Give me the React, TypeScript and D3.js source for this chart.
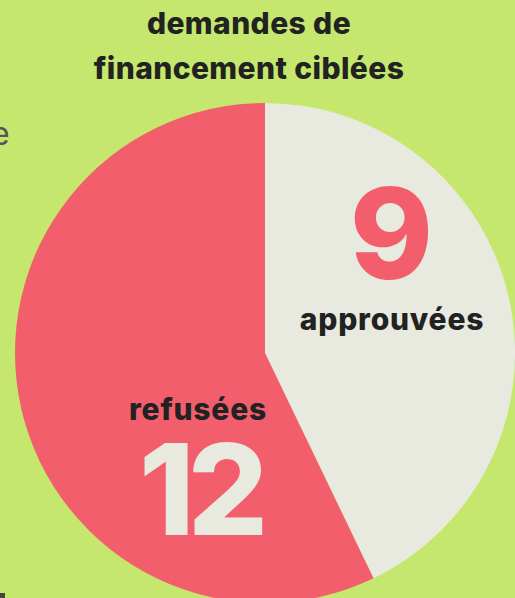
import React, { useEffect, useRef } from "react";
import * as d3 from "d3";

const categories = ["approuvées", "refusées"];
const values = [9, 12];
const colors = ["#e8eadf", "#f25e6b"];
const numberColors = ["#f25e6b", "#e8eadf"];
const titleLines = ["demandes de", "financement ciblées"];

export default function App() {
  const ref = useRef<SVGSVGElement>(null);

  useEffect(() => {
    const width = 515;
    const height = 598;
    const cx = 265;
    const cy = 353;
    const radius = 250;

    const svg = d3.select(ref.current);
    svg.selectAll("*").remove();

    svg.append("rect").attr("width", width).attr("height", height).attr("fill", "#c5e76d");

    // title
    svg
      .append("g")
      .attr("font-family", "Inter, sans-serif")
      .attr("font-weight", 800)
      .attr("font-size", 30)
      .attr("letter-spacing", 0.4)
      .attr("fill", "#222")
      .attr("text-anchor", "middle")
      .selectAll("text")
      .data(titleLines)
      .join("text")
      .attr("x", 249)
      .attr("y", (d, i) => 34 + i * 45)
      .text((d) => d);

    // cropped bits of neighbouring content
    svg
      .append("text")
      .attr("x", -9)
      .attr("y", 145)
      .attr("font-family", "Inter, sans-serif")
      .attr("font-size", 32)
      .attr("fill", "#555")
      .text("e");
    svg.append("rect").attr("x", 0).attr("y", 593).attr("width", 5).attr("height", 5).attr("fill", "#444");

    const pie = d3
      .pie<number>()
      .sort(null)
      .value((d) => d);
    const arcs = pie(values);
    const arc = d3.arc<d3.PieArcDatum<number>>().innerRadius(0).outerRadius(radius);

    const g = svg.append("g").attr("transform", `translate(${cx},${cy})`);
    g.selectAll("path")
      .data(arcs)
      .join("path")
      .attr("d", arc)
      .attr("fill", (d, i) => colors[i]);

    // labels
    const labelPos = [
      { num: [123, -74], lab: [127, -23] },
      { num: [-65, 182], lab: [-67, 67] },
    ];
    arcs.forEach((a, i) => {
      const p = labelPos[i];
      g.append("text")
        .attr("x", p.num[0])
        .attr("y", p.num[1])
        .attr("text-anchor", "middle")
        .attr("font-family", "Inter, sans-serif")
        .attr("font-weight", 800)
        .attr("font-size", 126)
        .attr("letter-spacing", -7)
        .attr("fill", numberColors[i])
        .text(values[i]);
      g.append("text")
        .attr("x", p.lab[0])
        .attr("y", p.lab[1])
        .attr("text-anchor", "middle")
        .attr("font-family", "Inter, sans-serif")
        .attr("font-weight", 800)
        .attr("font-size", 30)
        .attr("letter-spacing", 0.8)
        .attr("fill", "#222")
        .text(categories[i]);
    });
  }, []);

  return (
    <svg
      ref={ref}
      width={515}
      height={598}
      style={{ position: "fixed", left: 0, top: 0, display: "block" }}
    />
  );
}
